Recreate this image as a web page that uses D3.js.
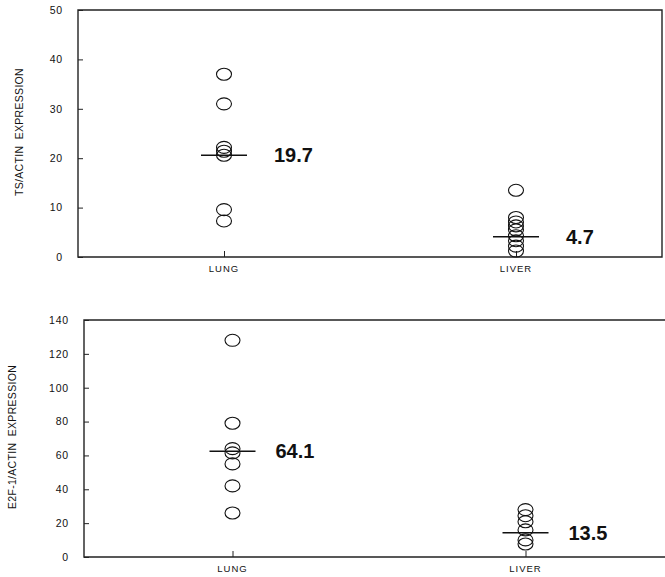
<!DOCTYPE html>
<html>
<head>
<meta charset="utf-8">
<script src="https://cdn.jsdelivr.net/npm/d3@7"></script>
<style>
  body { margin: 0; background: #fff; }
  text { font-family: "Liberation Sans", Arial, sans-serif; fill: #111; }
</style>
</head>
<body>
<script>
// groups on the x axis
var groups = ["LUNG", "LIVER"];

// top panel: TS/actin expression, one value per circle
var tsLung  = [37, 31, 22.2, 21.4, 20.6, 9.6, 7.3];
var tsLiver = [13.5, 8.0, 7.1, 6.3, 5.5, 4.3, 3.3, 2.2, 1.2];
var tsLine  = [20.6, 4.1];          // where the horizontal bar sits
var tsText  = ["19.7", "4.7"];      // printed value next to the bar
var tsTicks = [0, 10, 20, 30, 40, 50];

// bottom panel: E2F-1/actin expression
var e2fLung  = [128, 79, 64, 61.5, 55, 42, 26];
var e2fLiver = [28, 24.4, 20.8, 16, 10.1, 7.7];
var e2fLine  = [62.5, 14.3];
var e2fText  = ["64.1", "13.5"];
var e2fTicks = [0, 20, 40, 60, 80, 100, 120, 140];

var svg = d3.select("body").append("svg")
    .attr("width", 665)
    .attr("height", 577);

function drawPanel(p) {
    var y = d3.scaleLinear().domain(p.domain).range([p.bottom, p.top]);
    var x = d3.scalePoint().domain(groups).range(p.xRange).padding(0.5);

    var g = svg.append("g");

    // frame round the plot
    g.append("path")
        .attr("d", "M" + p.left + "," + p.top + "H" + p.right + "V" + p.bottom +
                   "H" + p.left + "Z")
        .attr("fill", "none")
        .attr("stroke", "#222")
        .attr("stroke-width", 1.4);

    // y axis, small ticks pointing inward
    var yAxis = g.append("g")
        .attr("transform", "translate(" + p.left + ",0)")
        .call(d3.axisRight(y).tickValues(p.ticks).tickSize(5).tickPadding(-20));
    yAxis.select(".domain").remove();
    yAxis.selectAll("line").attr("stroke", "#222");
    yAxis.selectAll("text")
        .attr("text-anchor", "end")
        .style("font-size", "10.5px")
        .style("letter-spacing", "0.8px")
        .style("font-family", "'Liberation Sans', Arial, sans-serif")
        .attr("fill", "#111");

    // x ticks inward, labels under the axis
    var xAxis = g.append("g")
        .attr("transform", "translate(0," + p.bottom + ")")
        .call(d3.axisTop(x).tickSize(6).tickFormat(""));
    xAxis.select(".domain").remove();
    xAxis.selectAll("line").attr("stroke", "#222");

    g.selectAll(".xlab")
        .data(groups)
        .enter().append("text")
        .attr("class", "xlab")
        .attr("x", function(d) { return x(d); })
        .attr("y", p.bottom + 15)
        .attr("text-anchor", "middle")
        .style("font-size", "9.5px")
        .style("letter-spacing", "1px")
        .text(function(d) { return d; });

    // y title
    g.append("text")
        .attr("transform", "translate(" + p.titleX + "," + p.titleY + ") rotate(-90)")
        .attr("text-anchor", "middle")
        .style("font-size", "10.5px")
        .style("letter-spacing", "0.3px")
        .style("white-space", "pre")
        .text(p.title);

    // circles
    var pts = [];
    p.series.forEach(function(vals, i) {
        vals.forEach(function(v) { pts.push({ group: groups[i], value: v }); });
    });
    g.selectAll("ellipse")
        .data(pts)
        .enter().append("ellipse")
        .attr("cx", function(d) { return x(d.group); })
        .attr("cy", function(d) { return y(d.value); })
        .attr("rx", 7.5)
        .attr("ry", 6)
        .attr("fill", "none")
        .attr("stroke", "#111")
        .attr("stroke-width", 1.1);

    // horizontal bars and printed values
    g.selectAll(".bar")
        .data(groups)
        .enter().append("line")
        .attr("class", "bar")
        .attr("x1", function(d) { return x(d) - 23; })
        .attr("x2", function(d) { return x(d) + 23; })
        .attr("y1", function(d, i) { return y(p.lines[i]); })
        .attr("y2", function(d, i) { return y(p.lines[i]); })
        .attr("stroke", "#111")
        .attr("stroke-width", 1.6);

    g.selectAll(".val")
        .data(groups)
        .enter().append("text")
        .attr("class", "val")
        .attr("x", function(d) { return x(d) + p.textOffset; })
        .attr("y", function(d, i) { return y(p.lines[i]) + 7; })
        .style("font-size", "20px")
        .style("font-weight", "bold")
        .text(function(d, i) { return p.labels[i]; });
}

drawPanel({
    domain: [0, 50], ticks: tsTicks,
    top: 10, bottom: 257, left: 78, right: 662,
    xRange: [78, 662],
    series: [tsLung, tsLiver],
    lines: tsLine, labels: tsText, textOffset: 50,
    title: "TS/ACTIN  EXPRESSION", titleX: 23, titleY: 132
});

drawPanel({
    domain: [0, 140], ticks: e2fTicks,
    top: 320, bottom: 557, left: 84, right: 675,
    xRange: [86, 672],
    series: [e2fLung, e2fLiver],
    lines: e2fLine, labels: e2fText, textOffset: 43,
    title: "E2F-1/ACTIN  EXPRESSION", titleX: 16, titleY: 437
});
</script>
</body>
</html>
